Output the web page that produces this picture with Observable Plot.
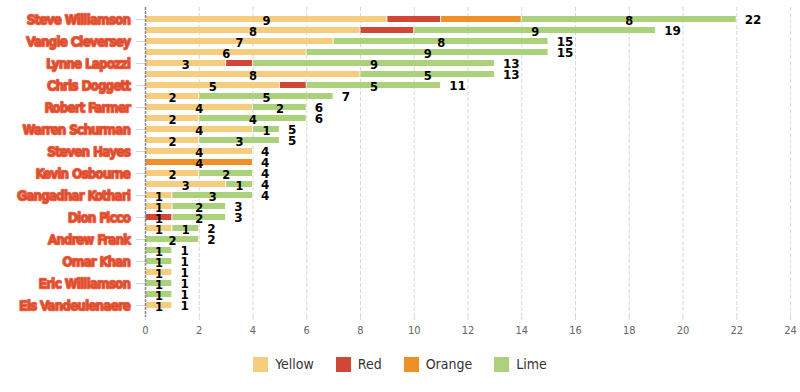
<!DOCTYPE html>
<html>
<head>
<meta charset="utf-8">
<script src="https://cdn.jsdelivr.net/npm/d3@7"></script>
<script src="https://cdn.jsdelivr.net/npm/@observablehq/plot@0.6"></script>
<style>
  body { margin: 0; background: #fff; width: 800px; height: 392px; overflow: hidden; }
  #legend { display: flex; justify-content: center; align-items: center; gap: 22px; padding-top: 11px;
    font-family: "DejaVu Sans Condensed", "DejaVu Sans", sans-serif; font-size: 14px; color: #333; }
  #legend .item { display: flex; align-items: center; gap: 7px; }
  #legend .sw { width: 15px; height: 15px; display: inline-block; }
</style>
</head>
<body>
<div id="chart"></div>
<div id="legend"></div>
<script>
const names = [
  "Steve Williamson", "Mark Dunn", "Vangie Cleversey", "Paul Norton", "Lynne Lapozzi",
  "Tony Marsh", "Chris Doggett", "Jenny Stone", "Robert Farmer", "Alan Price",
  "Warren Schurman", "Nick Bright", "Steven Hayes", "Laura Green", "Kevin Osbourne",
  "Sam Porter", "Gangadhar Kothari", "Rita Long", "Dion Picco", "Ian Fowler",
  "Andrew Frank", "Beth Carter", "Omar Khan", "Lisa Moore", "Eric Williamson",
  "Dave Ross", "Els Vandeulenaere"
];
const series = ["Yellow", "Red", "Orange", "Lime"];
const colors = ["#f6cd7e", "#d24636", "#ef8f27", "#acd17c"];
const yellow = [9,8,7,6,3,8,5,2,4,2,4,2,4,0,2,3,1,1,0,1,0,0,0,1,0,0,1];
const red    = [2,2,0,0,1,0,1,0,0,0,0,0,0,0,0,0,0,0,1,0,0,0,0,0,0,0,0];
const orange = [3,0,0,0,0,0,0,0,0,0,0,0,0,4,0,0,0,0,0,0,0,0,0,0,0,0,0];
const lime   = [8,9,8,9,9,5,5,5,2,4,1,3,0,0,2,1,3,2,2,1,2,1,1,0,1,1,0];
const xTicks = [0,2,4,6,8,10,12,14,16,18,20,22,24];

const valuesBySeries = [yellow, red, orange, lime];
const segs = [];
const totals = [];
names.forEach((name, i) => {
  let acc = 0;
  series.forEach((s, k) => {
    const v = valuesBySeries[k][i];
    if (v > 0) {
      segs.push({name, series: s, value: v, x1: acc, x2: acc + v});
      acc += v;
    }
  });
  totals.push({name, total: acc});
});
const labeled = names.filter((d, i) => i % 2 === 0);
const segLabels = segs.filter(d => d.series === "Yellow" || d.series === "Lime" || d.x1 === 0);

const font = '"DejaVu Sans", sans-serif';
const chart = Plot.plot({
  width: 800,
  height: 345,
  marginTop: 7,
  marginBottom: 28,
  marginLeft: 145,
  marginRight: 10,
  style: {fontFamily: '"DejaVu Sans Condensed", "DejaVu Sans", sans-serif', background: "#fff"},
  x: {domain: [0, 24], ticks: xTicks},
  y: {domain: names, padding: 0.5},
  marks: [
    Plot.ruleX(xTicks.filter(d => d > 0), {stroke: "#d8d8d8", strokeDasharray: "4,2"}),
    Plot.axisX({ticks: xTicks, tickSize: 3, tickPadding: 6, fontSize: 11, color: "#666", stroke: "#ccd6eb", label: null}),
    Plot.axisY({ticks: labeled, tickSize: 9, stroke: "#ccd6eb", tickFormat: () => "", label: null}),
    Plot.barX(segs, {x1: "x1", x2: "x2", y: "name", fill: d => colors[series.indexOf(d.series)], insetLeft: 0.5, insetRight: 0.5}),
    Plot.ruleX([0], {stroke: "#888", strokeWidth: 1.5, strokeDasharray: "3,1"}),
    Plot.text(segLabels, {x: d => (d.x1 + d.x2) / 2, y: "name", text: d => String(d.value), dy: 2,
      fill: "#000", fontWeight: "bold", fontSize: 11.5, fontFamily: font}),
    Plot.text(totals, {x: "total", y: "name", text: d => String(d.total), dx: 8, dy: 1, textAnchor: "start",
      fill: "#000", fontWeight: "bold", fontSize: 12, fontFamily: font}),
    Plot.text(labeled, {x: 0, y: d => d, text: d => d, dx: -15, dy: 1, textAnchor: "end",
      fill: "#666", fontSize: 12, fontFamily: font,
      stroke: "#e8441f", strokeWidth: 2.5, strokeOpacity: 0.85, paintOrder: "fill"})
  ]
});
document.getElementById("chart").appendChild(chart);

const legend = document.getElementById("legend");
series.forEach((s, k) => {
  const item = document.createElement("div");
  item.className = "item";
  item.innerHTML = `<span class="sw" style="background:${colors[k]}"></span><span>${s}</span>`;
  legend.appendChild(item);
});
</script>
</body>
</html>
